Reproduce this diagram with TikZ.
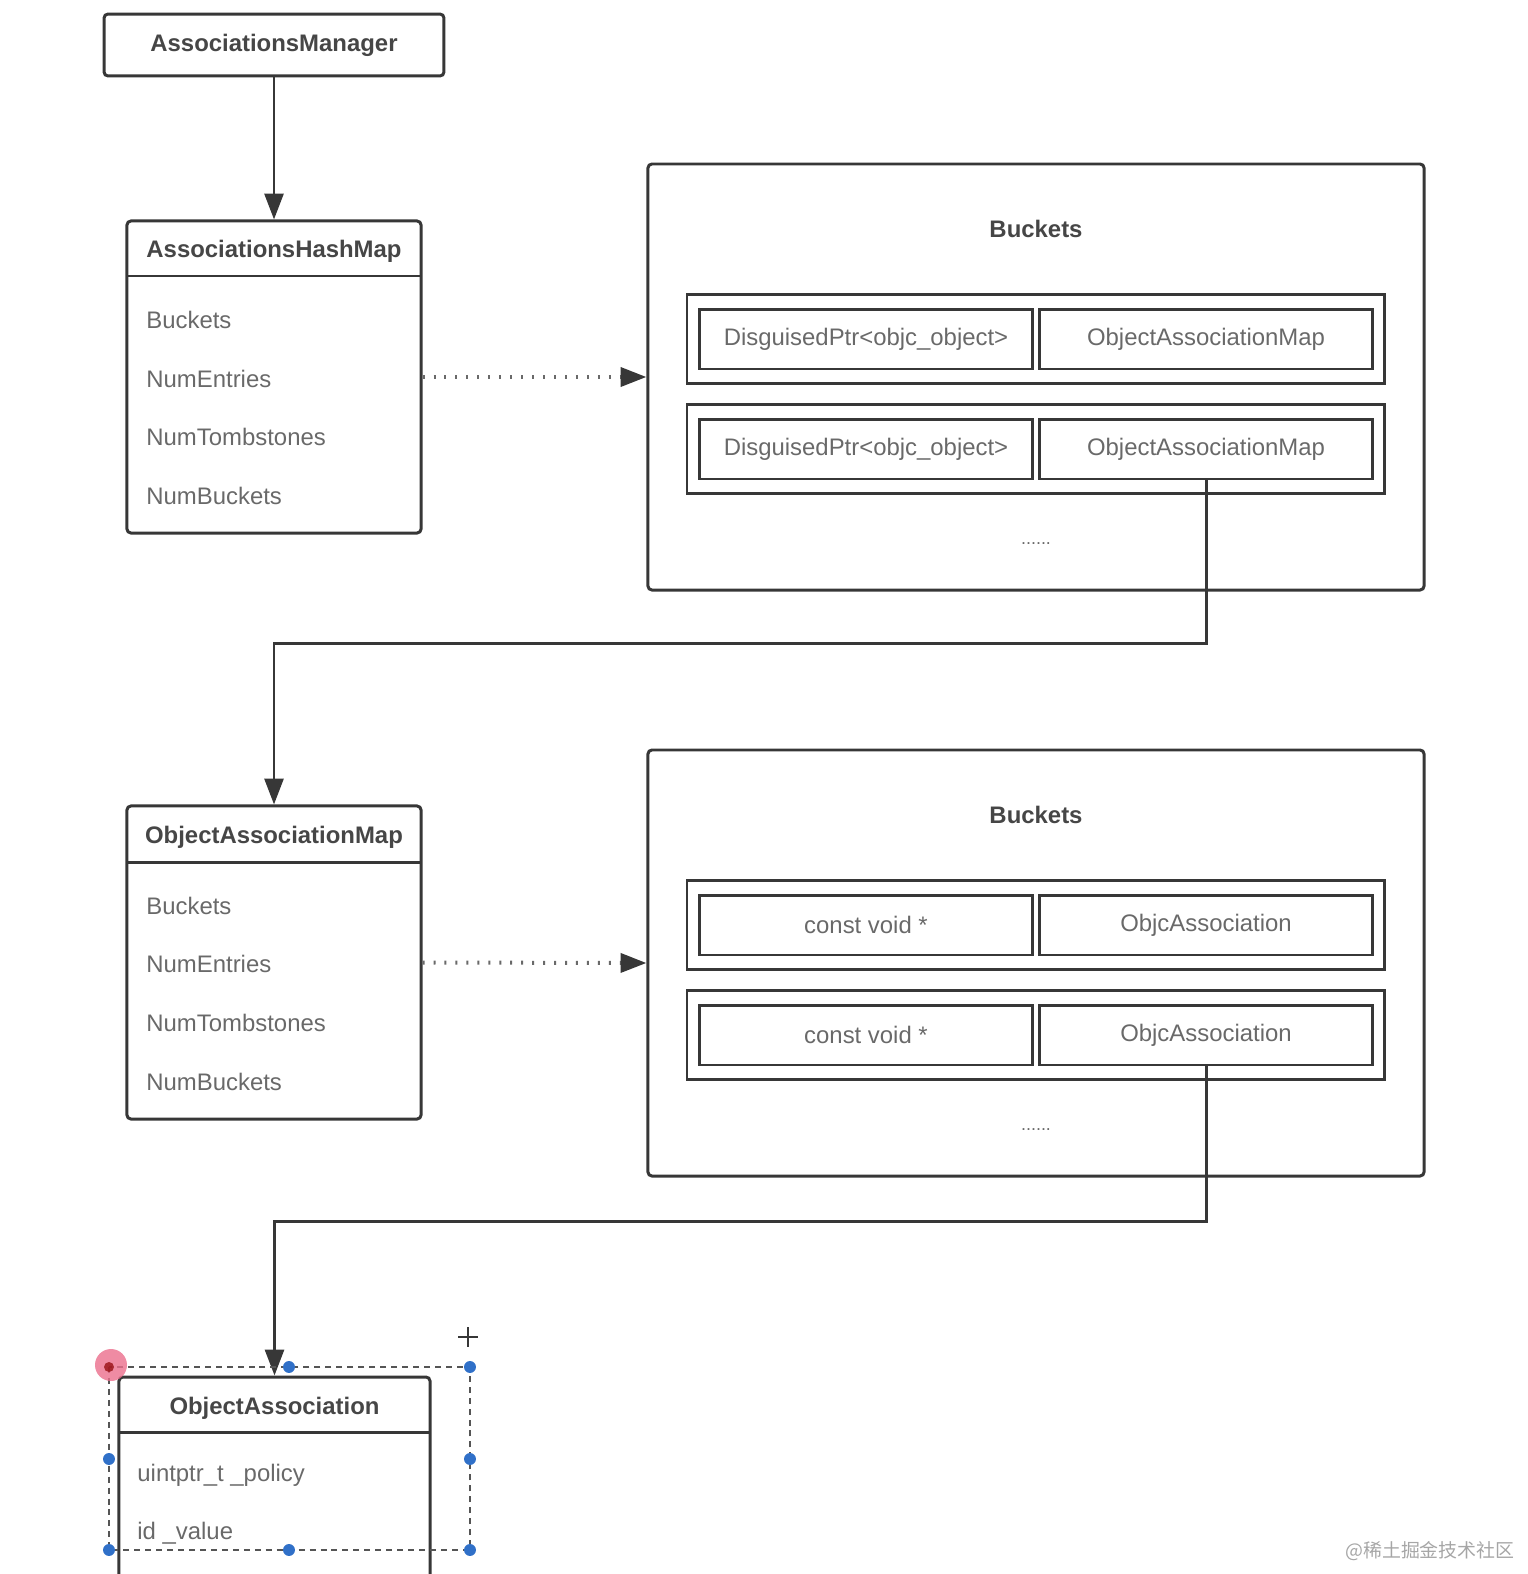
\documentclass[tikz,border=0pt]{standalone}
\usepackage{fontspec}
\setmainfont{Liberation Sans}
\newfontfamily\cjkfont{Noto Sans CJK SC}
\usetikzlibrary{positioning,arrows.meta}
\definecolor{lineColor}{RGB}{55,55,55}
\definecolor{titleColor}{RGB}{70,70,70}
\definecolor{fieldColor}{RGB}{105,105,105}
\definecolor{handleColor}{RGB}{48,112,200}
\definecolor{markColor}{RGB}{235,110,140}
\tikzstyle{diagram} = [x = 0.5bp, y = -0.5bp]
\tikzstyle{boxLine} = [draw=lineColor, line width=1.5pt]
\tikzstyle{plainBox} = [boxLine, rounded corners = 2pt, inner sep=0pt, text=titleColor, font=\fontsize{12}{14}\selectfont\bfseries]
\tikzstyle{cellBox} = [boxLine, inner sep=0pt, text=fieldColor, font=\fontsize{12}{14}\selectfont]
\tikzstyle{titleText} = [text=titleColor, font=\fontsize{12}{14}\selectfont\bfseries]
\tikzstyle{fieldText} = [text=fieldColor, font=\fontsize{12}{14}\selectfont, anchor=west, inner sep=0pt]
\tikzstyle{moreText} = [text=fieldColor, font=\fontsize{9}{11}\selectfont]
\tikzstyle{arrowLine} = [draw=lineColor, line width=1.5pt, -{Triangle[length=13pt, width=9.5pt]}]
\tikzstyle{dotLine} = [draw=fieldColor, line width=2pt, dash pattern=on 1pt off 4.5pt,
  -{Triangle[length=13pt, width=9.5pt, fill=lineColor, color=lineColor]}]
\tikzstyle{handleDot} = [circle, fill=handleColor, inner sep=0pt, minimum size=6pt]
\newcommand{\bucketRow}[4]{
  \node [cellBox, minimum width=349.8pt, minimum height=44.2pt] (#1) at (1035.5,#2) {};
  \node [cellBox, minimum width=167.6pt, minimum height=30.1pt] (#1Key) at (866,#2) {#3};
  \node [cellBox, minimum width=167.6pt, minimum height=30.1pt] (#1Value) at (1206,#2) {#4};
}
\begin{document}
\begin{tikzpicture}[diagram]
  \useasboundingbox (0,0) rectangle (1528,1574);
  \clip (0,0) rectangle (1528,1574);

  % manager
  \node [plainBox, minimum width=170.6pt, minimum height=31.1pt] (manager) at (274,45) {AssociationsManager};

  % hash map
  \node [plainBox, minimum width=147.6pt, minimum height=156.6pt] (hashMap) at (274,377) {};
  \node [titleText] (hashMapTitle) at (274,251) {AssociationsHashMap};
  \draw [boxLine] (127,276) -- (421,276);
  \foreach \field/\ypos [count=\i] in {Buckets/320, NumEntries/379, NumTombstones/437, NumBuckets/496}
    \node [fieldText] (hashMapField\i) at (146,\ypos) {\field};

  \node [plainBox, minimum width=389.5pt, minimum height=213.8pt] (hashBuckets) at (1036,377) {};
  \node [titleText] (hashBucketsTitle) at (1036,229) {Buckets};
  \bucketRow{hashRowOne}{339}{DisguisedPtr<objc\_object>}{ObjectAssociationMap}
  \bucketRow{hashRowTwo}{449}{DisguisedPtr<objc\_object>}{ObjectAssociationMap}
  \node [moreText] (hashMore) at (1036,544) {......};

  % object association map
  \node [plainBox, minimum width=147.6pt, minimum height=157.1pt] (objMap) at (274,962.5) {};
  \node [titleText] (objMapTitle) at (274,837) {ObjectAssociationMap};
  \draw [boxLine] (127,862) -- (421,862);
  \foreach \field/\ypos [count=\i] in {Buckets/906, NumEntries/964, NumTombstones/1023, NumBuckets/1082}
    \node [fieldText] (objMapField\i) at (146,\ypos) {\field};

  \node [plainBox, minimum width=389.5pt, minimum height=213.8pt] (objBuckets) at (1036,963) {};
  \node [titleText] (objBucketsTitle) at (1036,815) {Buckets};
  \bucketRow{objRowOne}{925}{const void *}{ObjcAssociation}
  \bucketRow{objRowTwo}{1035}{const void *}{ObjcAssociation}
  \node [moreText] (objMore) at (1036,1130) {......};

  % object association
  \node [plainBox, minimum width=156.1pt, minimum height=111.9pt] (assoc) at (274.5,1488.5) {};
  \node [titleText] (assocTitle) at (274.5,1408) {ObjectAssociation};
  \draw [boxLine] (119,1432) -- (430,1432);
  \node [fieldText] (assocPolicy) at (137,1475) {uintptr\_t \_policy};
  \node [fieldText] (assocValue) at (137,1533) {id \_value};

  % connectors
  \draw [arrowLine] (manager.south) -- (hashMap.north);
  \draw [dotLine] (hashMap.east) -- (hashBuckets.west);
  \draw [arrowLine] (hashRowTwoValue.south) -- ++(0,163) -| (objMap.north);
  \draw [dotLine] (objMap.east) -- (objBuckets.west);
  \draw [arrowLine] (objRowTwoValue.south) -- ++(0,155) -| (assoc.north);

  % selection
  \draw [lineColor!85, line width=0.8pt, dash pattern=on 3pt off 2.5pt] (109,1367) rectangle (470,1550);
  \fill [markColor, opacity=0.8] (111,1365) circle (16);
  \fill [red!55!black, opacity=0.7] (109,1367) circle (5);
  \foreach \hx/\hy [count=\i] in {289/1367, 470/1367, 109/1459, 470/1459, 109/1550, 289/1550, 470/1550}
    \node [handleDot] (handle\i) at (\hx,\hy) {};
  \draw [lineColor, line width=0.6pt] (458,1337) -- (478,1337) (468,1327) -- (468,1347);

  \node [anchor=east, inner sep=0pt, text=black!35, font=\cjkfont\fontsize{9.5}{11}\selectfont] (watermark) at (1515,1551) {@稀土掘金技术社区};
\end{tikzpicture}
\end{document}
